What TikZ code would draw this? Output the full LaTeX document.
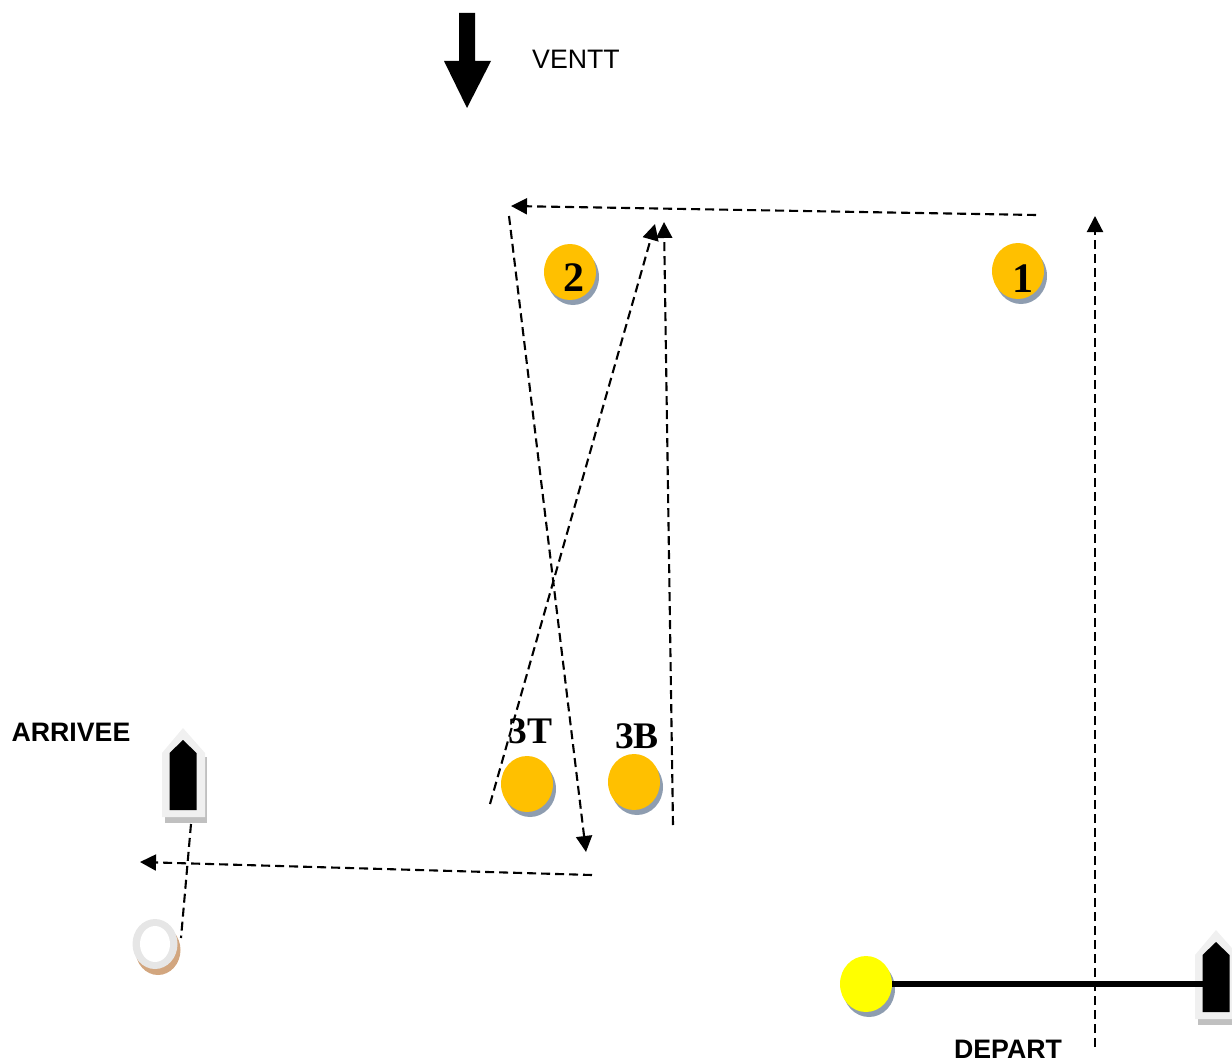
\documentclass[tikz,border=0pt]{standalone}
\usepackage{fontspec}
\setmainfont{Liberation Sans}
\newfontfamily\buoyfont{Liberation Serif}
\usetikzlibrary{arrows.meta,shapes.geometric,shadows}
\definecolor{buoyColor}{HTML}{FFC000}
\definecolor{startColor}{HTML}{FFFF00}
\definecolor{shadeColor}{HTML}{8E9DB0}
\definecolor{ringShade}{HTML}{D2A67F}
\definecolor{hullColor}{HTML}{F0F0F0}
\definecolor{hullShade}{HTML}{C0C0C0}
\definecolor{ringColor}{HTML}{E6E6E6}
\tikzset{
	buoy/.style={ellipse, draw=none, fill=#1, inner sep=0, minimum width=52pt, minimum height=56pt,
		drop shadow={shadow xshift=3pt, shadow yshift=-5pt, fill=shadeColor, opacity=1}},
	buoy/.default=buoyColor,
	buoylab/.style={font=\buoyfont\bfseries\fontsize{37.5}{38}\selectfont, inner sep=0},
	numlab/.style={font=\buoyfont\bfseries\fontsize{42}{42}\selectfont, inner sep=0},
	caption/.style={font=\fontsize{26.7}{27}\selectfont, inner sep=0},
	boldcap/.style={font=\bfseries\fontsize{26.7}{27}\selectfont, inner sep=0},
	course/.style={dash pattern=on 9pt off 5pt, line width=2.1pt},
	pics/boat/.style={code={
		\fill[hullShade] (-18,29) -- (-18,95) -- (24,95) -- (24,29) -- cycle;
		\fill[hullColor] (0,0) -- (22,25) -- (22,89) -- (-21,89) -- (-21,25) -- cycle;
		\fill[black] (0,12) -- (13.5,25) -- (13.5,82) -- (-13.5,82) -- (-13.5,25) -- cycle;
		\coordinate (-stern) at (8,96);
		\coordinate (-port) at (-13,54);
	}}
}
\begin{document}
\begin{tikzpicture}[x=1pt,y=-1pt,>={Triangle[length=16pt,width=16pt]}]
	\clip (0,0) rectangle (1232,1062);
	% wind
	\fill[black] (459,13) -- (475,13) -- (475,61) -- (491,61) -- (467,108) -- (444,61) -- (459,61) -- cycle;
	\node[caption] (wind) at (576,59) {VENTT};

	% buoys
	\node[buoy, label={[numlab,xshift=5pt,yshift=-8pt]center:1}] (b1) at (1018,271) {};
	\node[buoy, label={[numlab,xshift=4pt,yshift=-6pt]center:2}] (b2) at (570,272) {};
	\node[buoy] (b3t) at (527,784) {};
	\node[buoy] (b3b) at (634,782) {};
	\node[buoylab] (l3t) at (530.5,731) {3T};
	\node[buoylab] (l3b) at (637,736) {3B};

	% start and finish
	\node[buoy=startColor] (pin) at (866,984) {};
	\pic (boatdep) at (1216,930) {boat};
	\pic (boatarr) at (183,728) {boat};
	\node[ellipse, fill=ringColor, draw=none, inner sep=0, minimum width=45pt, minimum height=50pt,
		drop shadow={shadow xshift=3pt, shadow yshift=-6pt, fill=ringShade, opacity=1}] (ring) at (155,944) {};
	\node[ellipse, fill=white, inner sep=0, minimum width=30pt, minimum height=36pt] (hole) at (155,944) {};
	\node[boldcap] (arr) at (71,732) {ARRIVEE};
	\node[boldcap] (dep) at (1008,1049.5) {DEPART};
	\draw[line width=6pt] (pin.east) -- (boatdep-port);
	\coordinate (ringtop) at (181,938);
	\draw[course] (boatarr-stern) -- (ringtop);

	% course
	\coordinate (s0) at (1095,1047);
	\coordinate (s1) at (1095,216);
	\coordinate (s2) at (1036,215);
	\coordinate (s3) at (511,206);
	\coordinate (s4) at (509,216);
	\coordinate (s5) at (586,852);
	\coordinate (s6) at (490,804);
	\coordinate (s7) at (655,224);
	\coordinate (s8) at (673,825);
	\coordinate (s9) at (664,222);
	\coordinate (s10) at (592,875);
	\coordinate (s11) at (140,862);
	\draw[course,->] (s0) -- (s1);
	\draw[course,->] (s2) -- (s3);
	\draw[course,->] (s4) -- (s5);
	\draw[course,->] (s6) -- (s7);
	\draw[course,->] (s8) -- (s9);
	\draw[course,->] (s10) -- (s11);
\end{tikzpicture}
\end{document}
